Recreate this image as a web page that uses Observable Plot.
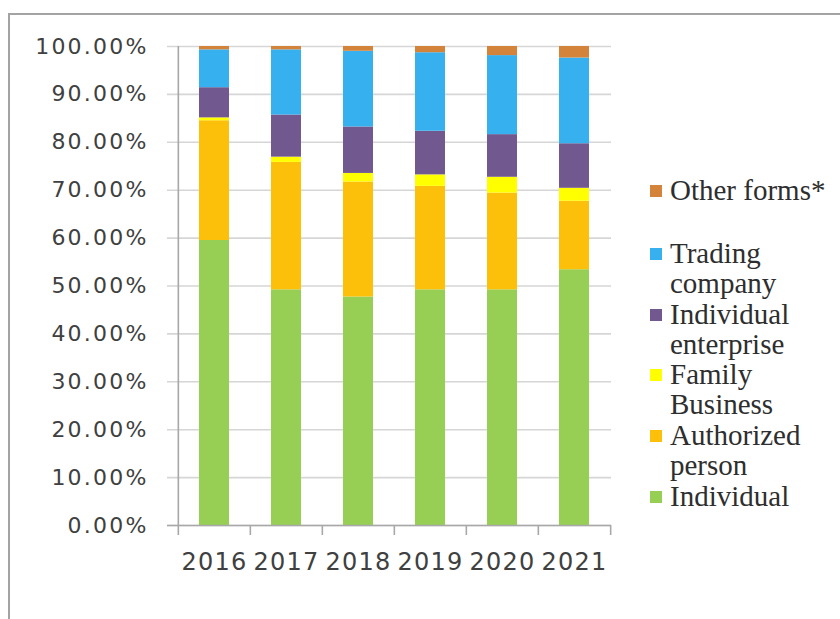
<!DOCTYPE html>
<html>
<head>
<meta charset="utf-8">
<script src="https://cdn.jsdelivr.net/npm/d3@7"></script>
<script src="https://cdn.jsdelivr.net/npm/@observablehq/plot@0.6"></script>
<style>
  body { margin: 0; background: #fff; }
  #wrap { position: relative; width: 840px; height: 619px; overflow: hidden; background: #fff; }
  #frame { position: absolute; left: 8px; top: 13px; width: 900px; height: 700px;
           border-left: 2px solid #a3a3a3; border-top: 2px solid #a3a3a3; }
  #chart { position: absolute; left: 0; top: 0; }
  #legend { position: absolute; left: 650px; top: 0; font-family: "Liberation Serif", serif;
            font-size: 29px; line-height: 29.5px; color: #2e2e2e; }
  .item { position: absolute; left: 0; display: flex; align-items: flex-start; white-space: pre; }
  .sw { width: 12px; height: 12px; margin-top: 8.75px; margin-right: 8px; flex: none; }
</style>
</head>
<body>
<div id="wrap">
  <div id="frame"></div>
  <div id="chart"></div>
  <div id="legend"></div>
</div>
<script>
// ---- data ----
const years = ["2016", "2017", "2018", "2019", "2020", "2021"];
const series = ["Individual", "Authorized person", "Family Business", "Individual enterprise", "Trading company", "Other forms*"];
const individual = [59.5, 49.2, 47.7, 49.2, 49.2, 53.4];
const authorizedPerson = [25.0, 26.6, 24.0, 21.6, 20.2, 14.3];
const familyBusiness = [0.6, 1.1, 1.8, 2.4, 3.3, 2.7];
const individualEnterprise = [6.3, 8.8, 9.7, 9.1, 8.9, 9.3];
const tradingCompany = [7.9, 13.6, 15.8, 16.4, 16.5, 17.9];
const otherForms = [0.7, 0.7, 1.0, 1.3, 1.9, 2.4];
const yTicks = [0, 10, 20, 30, 40, 50, 60, 70, 80, 90, 100];
const colors = ["#97cf55", "#fdc00a", "#ffff00", "#71588f", "#36b0ee", "#d4843a"];
// legend (top to bottom), with line breaks as in the reference
const legendOrder = ["Other forms*", "Trading company", "Individual enterprise", "Family Business", "Authorized person", "Individual"];
const legendText = ["Other forms*", "Trading\ncompany", "Individual\nenterprise", "Family\nBusiness", "Authorized\nperson", "Individual"];
const legendCenters = [191, 254, 315, 375, 436, 497];

const valuesBySeries = [individual, authorizedPerson, familyBusiness, individualEnterprise, tradingCompany, otherForms];
const rows = [];
years.forEach((year, i) => {
  series.forEach((s, j) => rows.push({year, series: s, value: valuesBySeries[j][i]}));
});

// ---- layout ----
const W = 840, H = 619;
const mL = 177, mR = 229, mT = 46, mB = 94;
const step = (W - mL - mR) / years.length;

const chart = Plot.plot({
  width: W, height: H,
  marginLeft: mL, marginRight: mR, marginTop: mT, marginBottom: mB,
  style: {background: "transparent", overflow: "visible"},
  x: {domain: years, paddingInner: 0.59, paddingOuter: 0.295, axis: null},
  y: {domain: [0, 100], axis: null},
  color: {domain: series, range: colors},
  marks: [
    Plot.ruleY(yTicks, {y: d => d, stroke: "#d6d6d6", strokeWidth: 1.6, insetLeft: -10}),
    Plot.barY(rows, {x: "year", y: "value", fill: "series", order: null}),
    Plot.ruleY([0], {y: d => d, stroke: "#a8a8a8", strokeWidth: 1.6, insetLeft: -10}),
    Plot.ruleX([years[0]], {x: d => d, y1: 0, y2: 100, dx: -step / 2, stroke: "#a8a8a8", strokeWidth: 1.6}),
    Plot.ruleX(years, {x: d => d, y1: 0, y2: 0, insetBottom: -10, dx: -step / 2, stroke: "#a8a8a8", strokeWidth: 1.6}),
    Plot.ruleX([years[years.length - 1]], {x: d => d, y1: 0, y2: 0, insetBottom: -10, dx: step / 2, stroke: "#a8a8a8", strokeWidth: 1.6}),
    Plot.text(yTicks, {y: d => d, text: d => d.toFixed(2) + "%", frameAnchor: "left", textAnchor: "end", dx: -29,
      fontFamily: "DejaVu Sans", fontSize: 22, fill: "#404040", ariaDescription: "ylabels"}),
    Plot.text(years, {x: d => d, y: 0, text: d => d, dy: 37,
      fontFamily: "DejaVu Sans", fontSize: 24, fill: "#404040", ariaDescription: "xlabels"})
  ]
});
d3.select(chart).selectAll('g[aria-description="ylabels"] text').style("letter-spacing", "2.2px");
d3.select(chart).selectAll('g[aria-description="xlabels"] text').style("letter-spacing", "1.2px");
document.getElementById("chart").appendChild(chart);

// ---- legend ----
const legend = d3.select("#legend");
legendOrder.forEach((s, k) => {
  const item = legend.append("div").attr("class", "item").style("top", (legendCenters[k] - 14.75) + "px");
  item.append("div").attr("class", "sw").style("background", colors[series.indexOf(s)]);
  item.append("div").text(legendText[k]);
});
</script>
</body>
</html>
